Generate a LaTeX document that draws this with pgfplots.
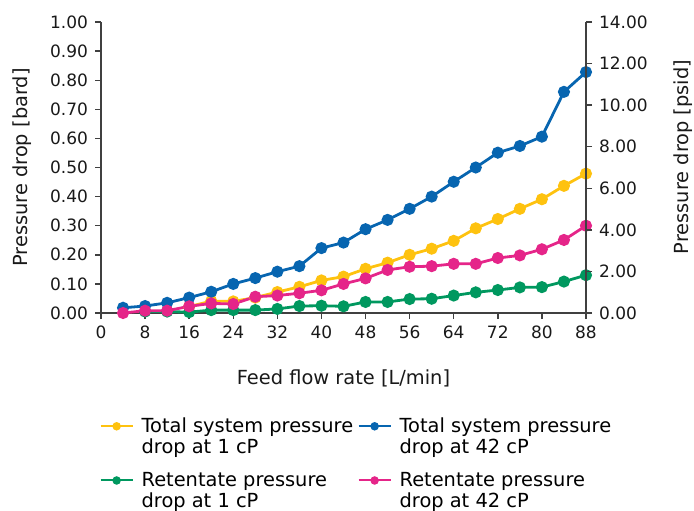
\documentclass[border=0pt]{standalone}
\usepackage{pgfplots}
\pgfplotsset{compat=1.18}
\usepackage{fontspec}
\setmainfont{DejaVu Sans}

\definecolor{cYel}{HTML}{FEC20F}
\definecolor{cBlu}{HTML}{0765B0}
\definecolor{cGrn}{HTML}{00985F}
\definecolor{cPnk}{HTML}{E52589}
\definecolor{cAx}{HTML}{404040}

% two-line legend text, baseline on the last line
\newcommand{\entry}[2]{\begin{tabular}[b]{@{}p{106pt}@{}}#1\\#2\end{tabular}}

\pgfplotsset{
  base/.style={
    width=242.5pt, height=145.5pt, scale only axis,
    xmin=0, xmax=88, ymin=0,
    tick align=outside, major tick length=3pt,
    axis line style={cAx, line width=0.7pt},
    tick style={cAx, line width=0.7pt},
    ticklabel style={font=\fontsize{8.5}{10}\selectfont, text=black!90},
    label style={font=\fontsize{9.7}{11}\selectfont, text=black!90},
    /pgf/number format/assume math mode=true,
  },
  ser/.style={line width=1.4pt, mark=*, mark size=2.3pt, mark options={solid}},
}

\begin{document}
\begin{tikzpicture}
\useasboundingbox (-50.5pt,-98.5pt) rectangle (296.5pt,156.5pt);
\begin{axis}[base,
  axis x line*=bottom, axis y line*=left,
  ymax=1,
  xtick={0,8,...,88},
  ytick={0,0.1,...,1.0},
  yticklabel style={/pgf/number format/.cd, fixed, fixed zerofill, precision=2},
  xlabel={Feed flow rate [L/min]},
  ylabel={Pressure drop [bard]},
  xlabel style={at={(axis description cs:0.5,-0.223)}, anchor=center},
  ylabel style={at={(axis description cs:-0.163,0.5)}, anchor=center},
  legend columns=2,
  legend style={at={(axis description cs:-0.016,-0.33)}, anchor=north west,
    draw=none, fill=none, font=\fontsize{9.7}{10.6}\selectfont,
    cells={anchor=base west},
    /tikz/every even column/.append style={column sep=0pt},
    /tikz/every odd column/.append style={column sep=2pt}},
  legend image code/.code={
    \draw[line width=1pt,mark size=1.6pt] plot coordinates {(0pt,13.6pt) (8pt,13.6pt) (16pt,13.6pt)};},
  legend image post style={mark repeat=2, mark phase=2},
]
\addplot[ser, cYel] coordinates {
(16,0.022) (20,0.041) (24,0.040) (28,0.053) (32,0.072) (36,0.090) (40,0.112) (44,0.125)
(48,0.152) (52,0.173) (56,0.200) (60,0.221) (64,0.248) (68,0.291) (72,0.323) (76,0.358)
(80,0.391) (84,0.437) (88,0.479)};
\addlegendentry{\entry{Total system pressure}{drop at 1 cP}}
\addplot[ser, cBlu] coordinates {
(4,0.018) (8,0.024) (12,0.035) (16,0.053) (20,0.073) (24,0.100) (28,0.120) (32,0.142)
(36,0.161) (40,0.223) (44,0.242) (48,0.288) (52,0.320) (56,0.358) (60,0.400) (64,0.451)
(68,0.500) (72,0.551) (76,0.574) (80,0.606) (84,0.760) (88,0.828)};
\addlegendentry{\entry{Total system pressure}{drop at 42 cP}}
\addplot[ser, cGrn] coordinates {
(8,0.005) (12,0.005) (16,0.003) (20,0.010) (24,0.010) (28,0.010) (32,0.014) (36,0.024)
(40,0.025) (44,0.023) (48,0.038) (52,0.038) (56,0.048) (60,0.049) (64,0.060) (68,0.071)
(72,0.079) (76,0.088) (80,0.089) (84,0.108) (88,0.130)};
\addlegendentry{\entry{\rule{0pt}{11pt}Retentate pressure}{drop at 1 cP}}
\addplot[ser, cPnk] coordinates {
(4,0.000) (8,0.008) (12,0.008) (16,0.023) (20,0.033) (24,0.031) (28,0.056) (32,0.060)
(36,0.068) (40,0.078) (44,0.100) (48,0.119) (52,0.148) (56,0.159) (60,0.161) (64,0.169)
(68,0.169) (72,0.189) (76,0.198) (80,0.219) (84,0.251) (88,0.300)};
\addlegendentry{\entry{\rule{0pt}{11pt}Retentate pressure}{drop at 42 cP}}
\end{axis}
\begin{axis}[base,
  axis x line=none, axis y line*=right,
  ymax=14,
  ytick={0,2,...,14},
  yticklabel style={/pgf/number format/.cd, fixed, fixed zerofill, precision=2},
  ylabel={Pressure drop [psid]},
  ylabel style={at={(axis description cs:1.2,0.536)}, anchor=center, rotate=0},
]
\end{axis}
\end{tikzpicture}
\end{document}
